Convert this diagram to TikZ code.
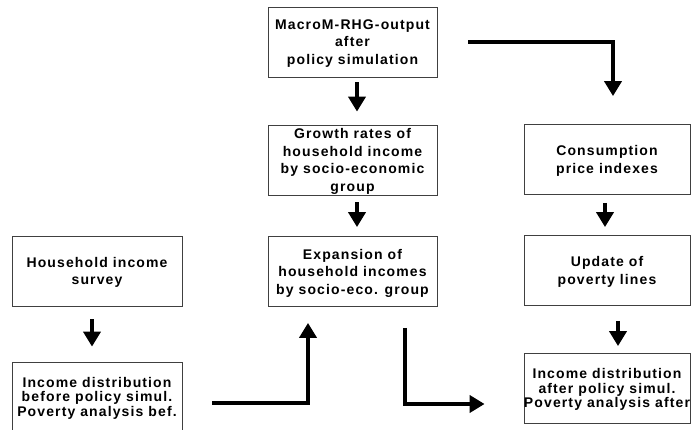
\documentclass[tikz,border=0pt]{standalone}
\usepackage{fontspec}
\setmainfont{Liberation Sans}[LetterSpace=8]
\usetikzlibrary{arrows.meta}

\begin{document}
\begin{tikzpicture}[x=1pt, y=-1pt,
    box/.style={draw=black!75, line width=0.8pt, minimum width=169pt,
        minimum height=70pt, inner sep=0pt, align=center, text depth=-3pt,
        font=\fontsize{14}{17.5}\selectfont\bfseries},
    tight/.style={text depth=1pt, font=\fontsize{14}{14.5}\selectfont\bfseries},
    flow/.style={line width=4pt, -{Triangle[width=17pt, length=15pt]}}]

    \clip (0,0) rectangle (691,430);

    \node [box]                              (macro)  at (352.5, 42)  {MacroM-RHG-output\\after\\policy simulation};
    \node [box]                              (growth) at (352.5,160)  {Growth rates of\\household income\\by socio-economic\\group};
    \node [box]                              (expan)  at (352.5,271.5){Expansion of\\household incomes\\by socio-eco. group};
    \node [box, minimum width=166pt]         (cons)   at (607,159.5)  {Consumption\\price indexes};
    \node [box, minimum width=166pt]         (update) at (607,270.5)  {Update of\\poverty lines};
    \node [box, tight, minimum width=166pt]  (after)  at (607,388.5)  {Income distribution\\after policy simul.\\Poverty analysis after};
    \node [box, minimum width=170pt, text depth=-6pt] (survey) at (97,271) {Household income\\survey};
    \node [box, tight, minimum width=170pt]  (before) at (97,397)     {Income distribution\\before policy simul.\\Poverty analysis bef.};

    % short arrows between stacked boxes
    \foreach \from/\to/\dx/\s/\e in {macro/growth/4.5/5/13, growth/expan/4.5/7/9,
        cons/update/-2/8/8, update/after/11/15/7, survey/before/-5/13/15} {
        \draw[flow, shorten <=\s pt, shorten >=\e pt]
            ([xshift=\dx pt]\from.south) -- ([xshift=\dx pt]\to.north);
    }

    % elbow arrows
    \draw[flow, shorten >=28pt] ([xshift=31pt]macro.east) -| ([xshift=6pt]cons.north);
    \draw[flow, shorten >=16pt] ([xshift=30pt, yshift=-6pt]before.east) -| ([xshift=-44.5pt]expan.south);
    \draw[flow, shorten <=21pt, shorten >=39pt] ([xshift=52.5pt]expan.south) |- ([yshift=-15.5pt]after.west);
\end{tikzpicture}
\end{document}
